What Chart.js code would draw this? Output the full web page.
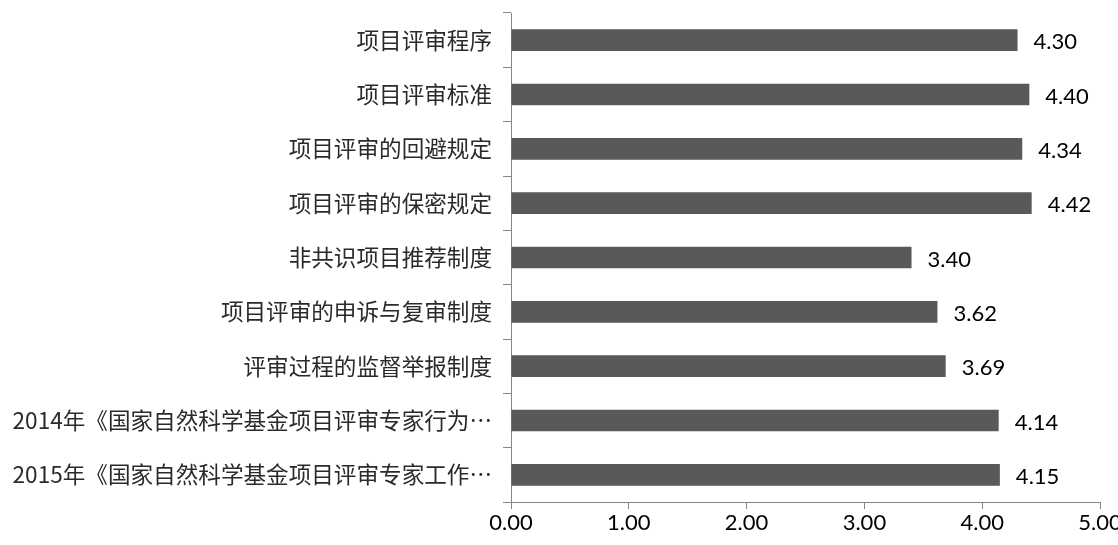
<!DOCTYPE html>
<html>
<head>
<meta charset="utf-8">
<script src="https://cdn.jsdelivr.net/npm/chart.js@4/dist/chart.umd.min.js"></script>
<style>
  html, body { margin: 0; padding: 0; background: #fff; }
  #wrap { width: 1118px; height: 545px; }
</style>
</head>
<body>
<div id="wrap"><canvas id="myChart"></canvas></div>
<script>
// categories top to bottom
var cats = [
  "项目评审程序",
  "项目评审标准",
  "项目评审的回避规定",
  "项目评审的保密规定",
  "非共识项目推荐制度",
  "项目评审的申诉与复审制度",
  "评审过程的监督举报制度",
  "2014年《国家自然科学基金项目评审专家行为…",
  "2015年《国家自然科学基金项目评审专家工作…"
];
var scores = [4.30, 4.40, 4.34, 4.42, 3.40, 3.62, 3.69, 4.14, 4.15];
var xTicks = [0, 1, 2, 3, 4, 5];

var fam = "Lato, 'Noto Sans CJK SC', sans-serif";
var cjk = "'Noto Sans CJK SC', Lato, sans-serif";

// value labels at the end of each bar
var valueLabels = {
  id: "valueLabels",
  afterDatasetsDraw: function (chart) {
    var ctx = chart.ctx;
    var meta = chart.getDatasetMeta(0);
    ctx.save();
    ctx.font = "22px " + fam;
    ctx.fillStyle = "#000";
    ctx.textAlign = "left";
    ctx.textBaseline = "middle";
    meta.data.forEach(function (bar, i) {
      ctx.fillText(scores[i].toFixed(2), bar.x + 16, bar.y + 2);
    });
    ctx.restore();
  }
};

var mychart = document.getElementById("myChart").getContext("2d");
var barChart = new Chart(mychart, {
  type: "bar",
  data: {
    labels: cats,
    datasets: [
      {
        data: scores,
        backgroundColor: "#595959",
        borderWidth: 0,
        categoryPercentage: 1,
        barPercentage: 0.4
      }
    ]
  },
  options: {
    indexAxis: "y",
    responsive: true,
    maintainAspectRatio: false,
    animation: false,
    layout: { padding: { top: 13, right: 18, left: 0, bottom: 0 } },
    plugins: { legend: { display: false }, tooltip: { enabled: false } },
    scales: {
      x: {
        min: 0,
        max: 5,
        afterBuildTicks: function (scale) {
          scale.ticks = xTicks.map(function (v) { return { value: v }; });
        },
        afterFit: function (scale) {
          scale.height = 43;
          scale.paddingLeft = 0;
          scale.paddingRight = 0;
        },
        border: { color: "#868686", width: 1 },
        grid: { drawOnChartArea: false, color: "#868686", tickLength: 7 },
        ticks: {
          color: "#000",
          font: { family: fam, size: 22 },
          padding: 1,
          callback: function (v) { return Number(v).toFixed(2); }
        }
      },
      y: {
        afterFit: function (scale) {
          scale.width = 511;
          scale.paddingTop = 0;
          scale.paddingBottom = 0;
        },
        border: { color: "#868686", width: 1 },
        grid: { drawOnChartArea: false, color: "#868686", tickLength: 8 },
        ticks: {
          color: "#2a2a2a",
          font: { family: cjk, size: 22.6 },
          padding: 11
        }
      }
    }
  },
  plugins: [valueLabels]
});
</script>
</body>
</html>
